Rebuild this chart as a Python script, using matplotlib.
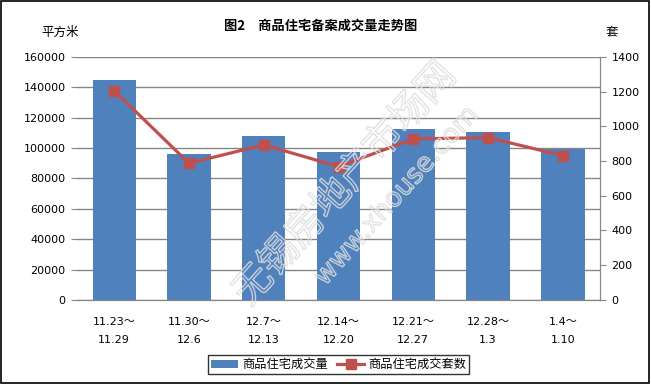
import matplotlib.pyplot as plt
import matplotlib.patheffects as pe
from matplotlib.patches import Rectangle
import numpy as np

plt.rcParams['font.family'] = ['DejaVu Sans', 'Noto Sans CJK SC']

weeks = ["11.23～\n11.29", "11.30～\n12.6", "12.7～\n12.13", "12.14～\n12.20",
         "12.21～\n12.27", "12.28～\n1.3", "1.4～\n1.10"]
area = [145000, 96000, 108000, 97500, 112500, 110800, 99600]
units = [1205, 787, 893, 768, 927, 935, 831]

bar_color = '#4F81BD'
line_color = '#C0504D'
grid_color = '#868686'

fig = plt.figure(figsize=(6.51, 3.84), dpi=100)
ax = fig.add_axes([0.118, 0.219, 0.804, 0.633])
ax2 = ax.twinx()

x = np.arange(len(weeks))
ax.bar(x, area, width=0.58, color=bar_color, label='商品住宅成交量', zorder=2)
ax2.plot(x, units, color=line_color, lw=2.3, marker='s', ms=7,
         label='商品住宅成交套数', zorder=3)

ax.set_xlim(-0.5, len(weeks) - 0.5)
ax.set_ylim(0, 160000)
ax.set_yticks(np.arange(0, 160001, 20000))
ax2.set_ylim(0, 1400)
ax2.set_yticks(np.arange(0, 1401, 200))
ax.yaxis.grid(True, color=grid_color, lw=1)
ax.set_axisbelow(True)

ax.set_xticks(x)
ax.set_xticklabels(weeks, fontsize=8, linespacing=2.0)
ax.tick_params(axis='x', length=0, pad=12)
ax.tick_params(axis='y', labelsize=8, length=4, color=grid_color, pad=4)
ax2.tick_params(axis='y', labelsize=8, length=4, color=grid_color, pad=4)

for a in (ax, ax2):
    for s in a.spines.values():
        s.set_color(grid_color)
    a.spines['top'].set_visible(False)
ax.spines['left'].set_visible(False)
ax2.spines['left'].set_visible(False)

fig.text(0.493, 0.933, '图2　商品住宅备案成交量走势图', fontsize=9.5, fontweight='bold',
         ha='center', va='center', family=['Noto Sans CJK SC', 'DejaVu Sans'])
fig.text(0.092, 0.916, '平方米', fontsize=9, ha='center', va='center')
fig.text(0.94, 0.916, '套', fontsize=9, ha='center', va='center')

# watermark: hollow outline only
wm = [pe.PathPatchEffect(facecolor='none', edgecolor='#dedede', linewidth=1.0, alpha=0.85)]
fig.text(0.53, 0.52, '无锡房地产市场网', fontsize=28, rotation=48,
         ha='center', va='center', path_effects=wm, zorder=5,
         family=['Noto Sans CJK SC'], fontweight='light')
fig.text(0.61, 0.49, 'www.xhouse.com', fontsize=19, rotation=48,
         ha='center', va='center', path_effects=wm, zorder=5)

h1, l1 = ax.get_legend_handles_labels()
h2, l2 = ax2.get_legend_handles_labels()
leg = fig.legend(h1 + h2, l1 + l2, loc='center', bbox_to_anchor=(0.52, 0.05),
                 ncol=2, fontsize=8.8, frameon=True, fancybox=False,
                 handlelength=2.2, columnspacing=0.8, handletextpad=0.3,
                 borderpad=0.25)
leg.get_frame().set_edgecolor('black')
leg.get_frame().set_linewidth(1)

fig.patches.append(Rectangle((0.002, 0.003), 0.995, 0.994, transform=fig.transFigure,
                             fill=False, edgecolor='black', lw=1.2))

plt.savefig('out.png', dpi=100)
